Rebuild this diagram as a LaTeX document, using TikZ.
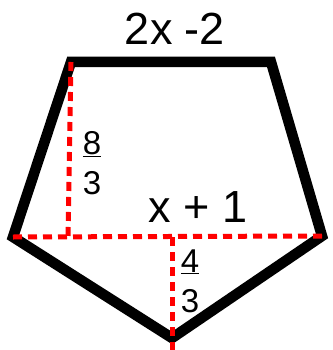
\documentclass[tikz,border=0pt]{standalone}
\usepackage{fontspec}
\setmainfont{Liberation Sans}
\begin{document}
\begin{tikzpicture}[x=1pt,y=-1pt,
  edge/.style={line width=10.5pt,line join=miter,black},
  reddash/.style={line width=5pt,red,dash pattern=on 9pt off 6pt},
  bigtxt/.style={font=\fontsize{45}{54}\selectfont,inner sep=0pt},
  fractxt/.style={font=\fontsize{33}{40}\selectfont,inner sep=0pt,align=center}]
\useasboundingbox (0,0) rectangle (332,350);
\coordinate (TL) at (71,62);
\coordinate (TR) at (271,62);
\coordinate (R) at (322,236);
\coordinate (B) at (172,338);
\coordinate (L) at (13,237);
\coordinate (F1) at (68,237);
\coordinate (M) at (172,237);
\coordinate (Bot) at (172,350);
\draw[edge] (TL) -- (TR) -- (R) -- (B) -- (L) -- cycle;
\draw[reddash] (L) -- (R);
\draw[reddash] (TL) -- (F1);
\draw[reddash] (M) -- (Bot);
\node[bigtxt] (top) at (175,29) {2x -2};
\node[bigtxt] (mid) at (198,207) {x + 1};
\node[fractxt] (f1) at (92,163) {\underline{8}\\[0pt]3};
\node[fractxt] (f2) at (190,281) {\underline{4}\\[0pt]3};
\end{tikzpicture}
\end{document}
